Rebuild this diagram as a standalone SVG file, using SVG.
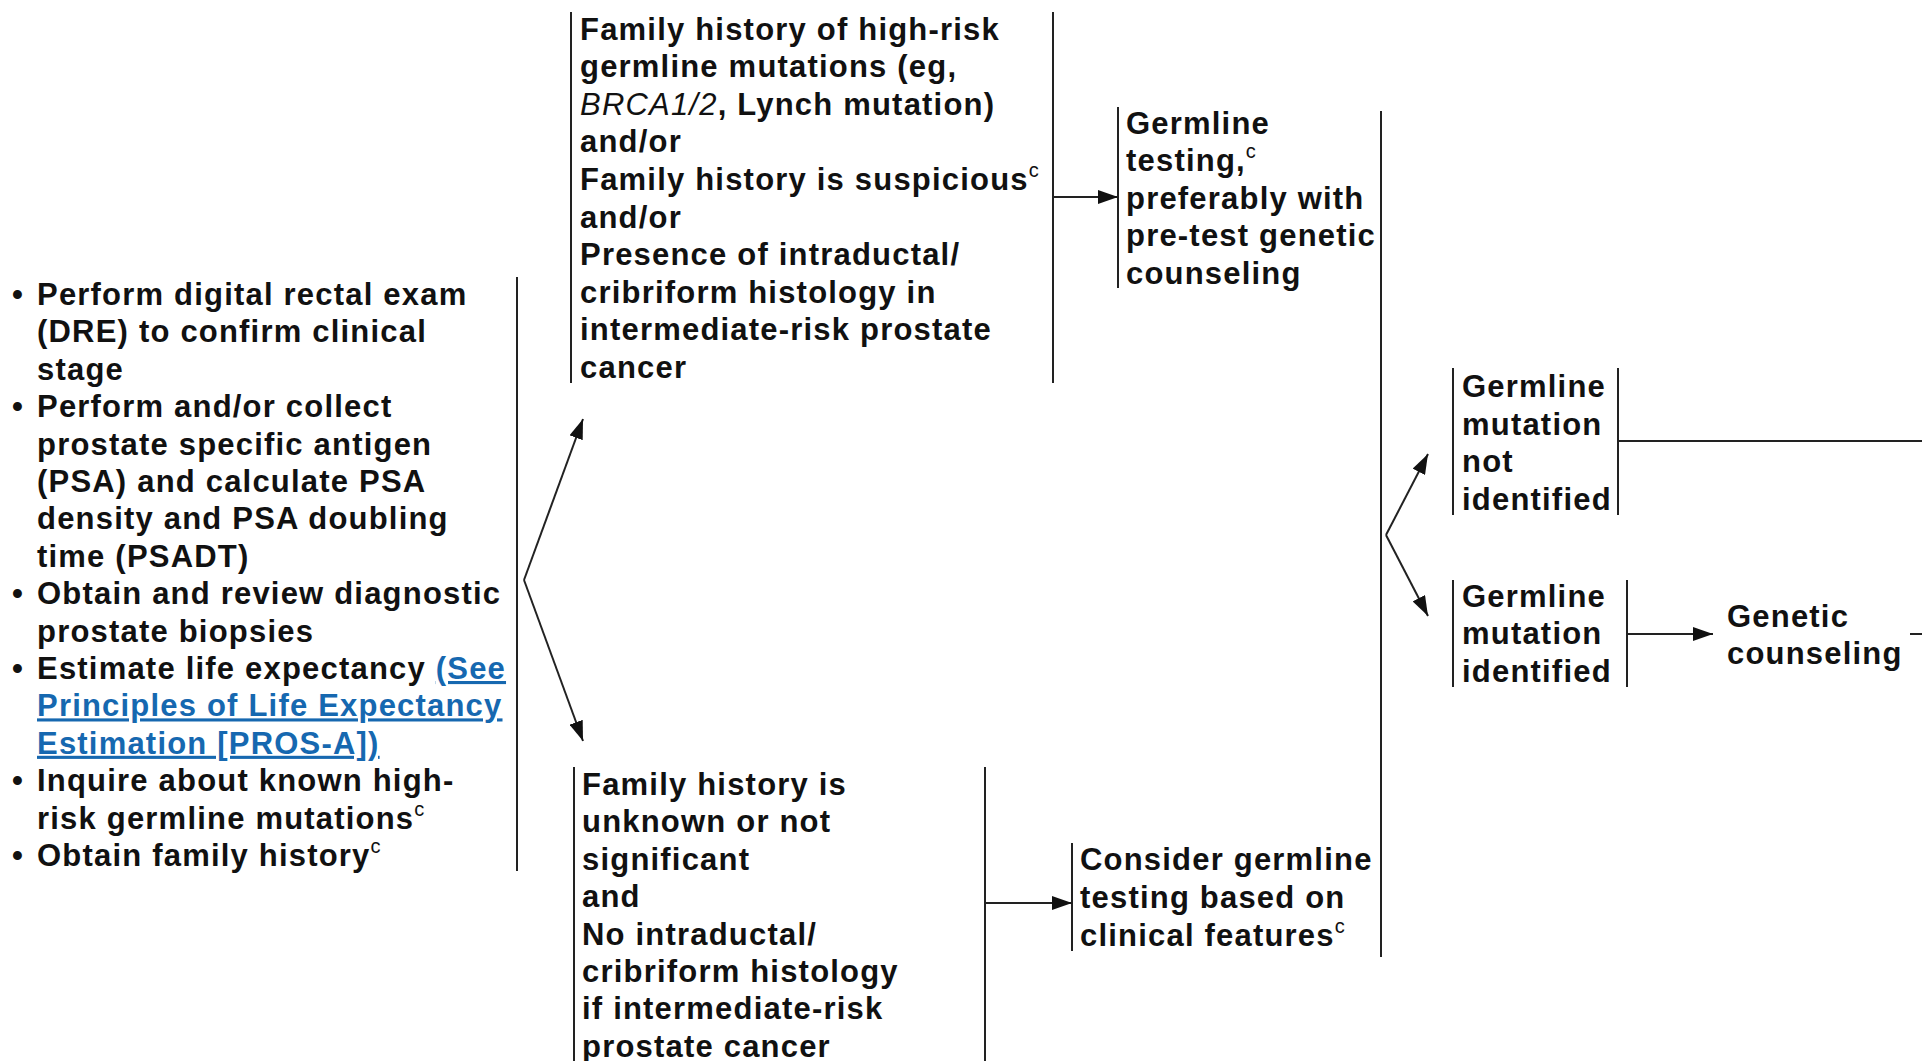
<svg xmlns="http://www.w3.org/2000/svg" width="1922" height="1061" viewBox="0 0 1922 1061">
<style>
.t{font-family:"Liberation Sans",Arial,sans-serif;font-size:31px;font-weight:bold;fill:#111;letter-spacing:1.2px}
.sup{font-size:20px;font-weight:normal;letter-spacing:0}
.lnk{fill:#1668b0;text-decoration:underline}
.it{font-style:italic;font-weight:normal}
.bar{stroke:#222;stroke-width:2;fill:none}
.c{stroke:#222;stroke-width:2;fill:none}
.ca{stroke:#222;stroke-width:2;fill:none;marker-end:url(#ah)}
</style>
<defs>
<marker id="ah" markerUnits="userSpaceOnUse" markerWidth="20" markerHeight="14" refX="20" refY="7" orient="auto">
<path d="M0,0 L20,7 L0,14 z" fill="#111"/>
</marker>
</defs>
<rect width="1922" height="1061" fill="#fff"/>

<g id="workup">
<line class="bar" x1="517" y1="277" x2="517" y2="871"/>
<text class="t">
<tspan x="12" y="305">•</tspan><tspan x="37" y="305">Perform digital rectal exam</tspan>
<tspan x="37" y="342.4">(DRE) to confirm clinical</tspan>
<tspan x="37" y="379.8">stage</tspan>
<tspan x="12" y="417.2">•</tspan><tspan x="37" y="417.2">Perform and/or collect</tspan>
<tspan x="37" y="454.6">prostate specific antigen</tspan>
<tspan x="37" y="492">(PSA) and calculate PSA</tspan>
<tspan x="37" y="529.4">density and PSA doubling</tspan>
<tspan x="37" y="566.8">time (PSADT)</tspan>
<tspan x="12" y="604.2">•</tspan><tspan x="37" y="604.2">Obtain and review diagnostic</tspan>
<tspan x="37" y="641.6">prostate biopsies</tspan>
<tspan x="12" y="679">•</tspan><tspan x="37" y="679">Estimate life expectancy </tspan><tspan class="lnk">(See</tspan>
<tspan class="lnk" x="37" y="716.4">Principles of Life Expectancy</tspan>
<tspan class="lnk" x="37" y="753.8">Estimation [PROS-A])</tspan>
<tspan x="12" y="791.2">•</tspan><tspan x="37" y="791.2">Inquire about known high-</tspan>
<tspan x="37" y="828.6">risk germline mutations</tspan><tspan class="sup" dy="-13">c</tspan>
<tspan x="12" y="866">•</tspan><tspan x="37" y="866">Obtain family history</tspan><tspan class="sup" dy="-13">c</tspan>
</text>
</g>

<g id="high-risk">
<line class="bar" x1="571" y1="12" x2="571" y2="383"/>
<line class="bar" x1="1053" y1="12" x2="1053" y2="383"/>
<text class="t">
<tspan x="580" y="39.5">Family history of high-risk</tspan>
<tspan x="580" y="77.1">germline mutations (eg,</tspan>
<tspan x="580" y="114.7" class="it">BRCA1/2</tspan><tspan>, Lynch mutation)</tspan>
<tspan x="580" y="152.3">and/or</tspan>
<tspan x="580" y="189.9">Family history is suspicious</tspan><tspan class="sup" dy="-13">c</tspan>
<tspan x="580" y="227.5">and/or</tspan>
<tspan x="580" y="265.1">Presence of intraductal/</tspan>
<tspan x="580" y="302.7">cribriform histology in</tspan>
<tspan x="580" y="340.3">intermediate-risk prostate</tspan>
<tspan x="580" y="377.9">cancer</tspan>
</text>
</g>

<g id="germline-testing">
<line class="bar" x1="1118" y1="107" x2="1118" y2="288"/>
<text class="t">
<tspan x="1126" y="134">Germline</tspan>
<tspan x="1126" y="171.4">testing,</tspan><tspan class="sup" dy="-13">c</tspan>
<tspan x="1126" y="208.8">preferably with</tspan>
<tspan x="1126" y="246.2">pre-test genetic</tspan>
<tspan x="1126" y="283.6">counseling</tspan>
</text>
</g>

<g id="not-significant">
<line class="bar" x1="574" y1="767" x2="574" y2="1061"/>
<line class="bar" x1="985" y1="767" x2="985" y2="1061"/>
<text class="t">
<tspan x="582" y="795">Family history is</tspan>
<tspan x="582" y="832.4">unknown or not</tspan>
<tspan x="582" y="869.8">significant</tspan>
<tspan x="582" y="907.2">and</tspan>
<tspan x="582" y="944.6">No intraductal/</tspan>
<tspan x="582" y="982">cribriform histology</tspan>
<tspan x="582" y="1019.4">if intermediate-risk</tspan>
<tspan x="582" y="1056.8">prostate cancer</tspan>
</text>
</g>

<g id="consider-testing">
<line class="bar" x1="1072" y1="843" x2="1072" y2="951"/>
<text class="t">
<tspan x="1080" y="870">Consider germline</tspan>
<tspan x="1080" y="908">testing based on</tspan>
<tspan x="1080" y="946">clinical features</tspan><tspan class="sup" dy="-13">c</tspan>
</text>
</g>

<g id="mutation-not-identified">
<line class="bar" x1="1453" y1="368" x2="1453" y2="515"/>
<line class="bar" x1="1618" y1="368" x2="1618" y2="515"/>
<text class="t">
<tspan x="1462" y="397">Germline</tspan>
<tspan x="1462" y="434.5">mutation</tspan>
<tspan x="1462" y="472">not</tspan>
<tspan x="1462" y="509.5">identified</tspan>
</text>
</g>

<g id="mutation-identified">
<line class="bar" x1="1453" y1="580" x2="1453" y2="687"/>
<line class="bar" x1="1627" y1="580" x2="1627" y2="687"/>
<text class="t">
<tspan x="1462" y="606.5">Germline</tspan>
<tspan x="1462" y="644">mutation</tspan>
<tspan x="1462" y="681.5">identified</tspan>
</text>
</g>

<g id="genetic-counseling">
<text class="t">
<tspan x="1727" y="626.5">Genetic</tspan>
<tspan x="1727" y="664">counseling</tspan>
</text>
</g>

<g id="connectors">
<polyline class="ca" points="524,580 583,419"/>
<polyline class="ca" points="524,580 583,741"/>
<line class="ca" x1="1053" y1="197" x2="1118" y2="197"/>
<line class="ca" x1="985" y1="903" x2="1072" y2="903"/>
<line class="c" x1="1381" y1="111" x2="1381" y2="957"/>
<line class="ca" x1="1386" y1="535" x2="1428" y2="454"/>
<line class="ca" x1="1386" y1="535" x2="1428" y2="616"/>
<line class="c" x1="1618" y1="441" x2="1922" y2="441"/>
<line class="ca" x1="1627" y1="634" x2="1713" y2="634"/>
<line class="c" x1="1910" y1="634" x2="1922" y2="634"/>
</g>
</svg>
